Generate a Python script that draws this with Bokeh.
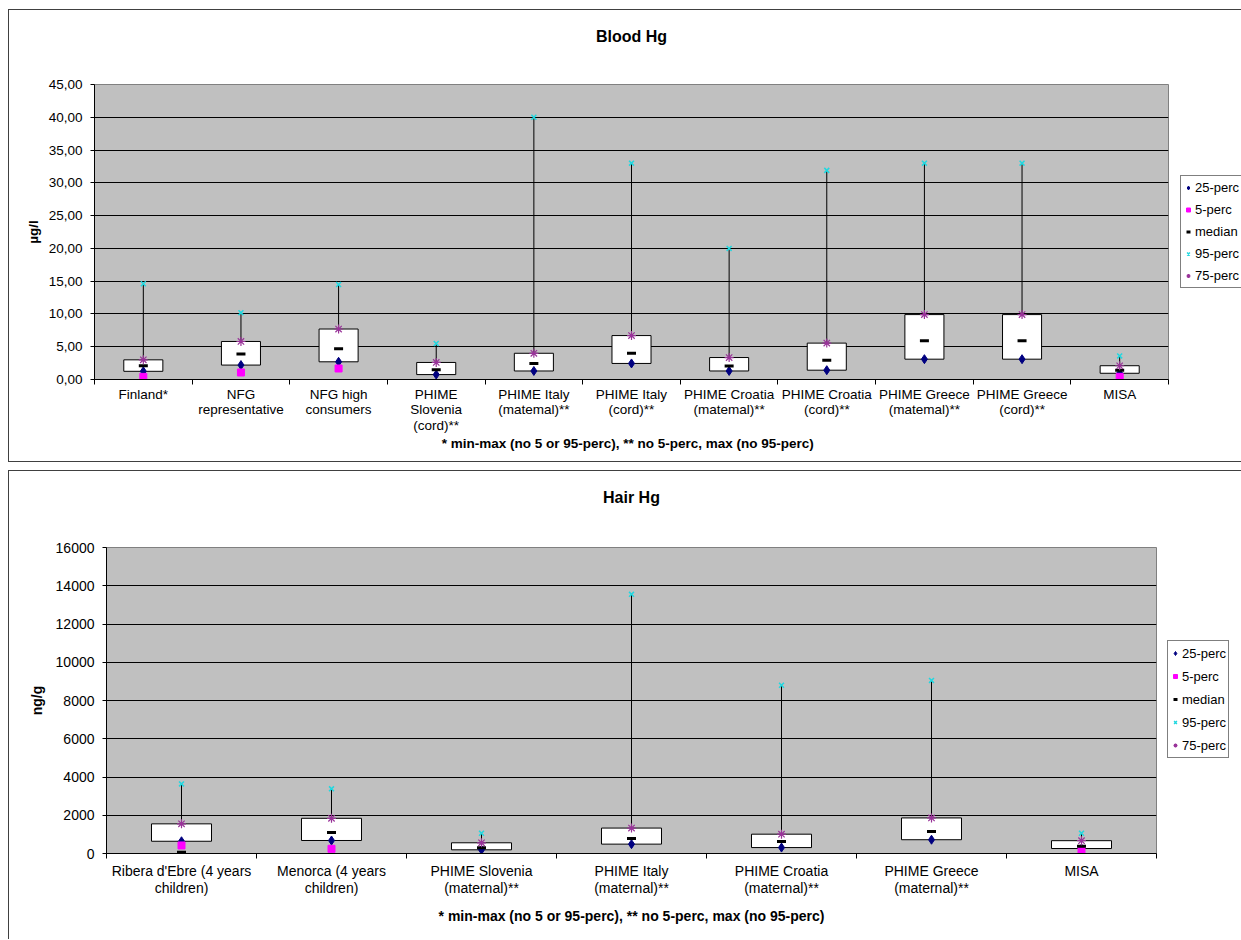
from bokeh.plotting import figure
from bokeh.models import (Range1d, FixedTicker, CustomJSTickFormatter, Legend,
                          LegendItem, Title)
from bokeh.embed import file_html
from bokeh.resources import INLINE

FONT = "Liberation Sans"

# ---------------- Blood Hg (µg/l) ----------------
blood_categories = ["Finland*", "NFG\nrepresentative", "NFG high\nconsumers",
                    "PHIME\nSlovenia\n(cord)**", "PHIME Italy\n(matemal)**",
                    "PHIME Italy\n(cord)**", "PHIME Croatia\n(matemal)**",
                    "PHIME Croatia\n(cord)**", "PHIME Greece\n(matemal)**",
                    "PHIME Greece\n(cord)**", "MISA"]
blood_p5 = [0.4, 1.07, 1.68, None, None, None, None, None, None, None, 0.4]
blood_p25 = [1.25, 2.2, 2.7, 0.75, 1.3, 2.45, 1.3, 1.42, 3.1, 3.1, 0.95]
blood_median = [2.1, 3.9, 4.7, 1.5, 2.45, 4.0, 2.05, 2.95, 5.9, 5.9, 1.42]
blood_p75 = [3.0, 5.8, 7.7, 2.6, 4.0, 6.7, 3.35, 5.55, 9.9, 9.9, 2.1]
blood_p95 = [14.6, 10.2, 14.5, 5.5, 40.0, 33.0, 20.0, 31.9, 33.0, 33.0, 3.6]
blood_yticks = [0, 5, 10, 15, 20, 25, 30, 35, 40, 45]

# ---------------- Hair Hg (ng/g) ----------------
hair_categories = ["Ribera d'Ebre (4 years\nchildren)", "Menorca (4 years\nchildren)",
                   "PHIME Slovenia\n(maternal)**", "PHIME Italy\n(maternal)**",
                   "PHIME Croatia\n(maternal)**", "PHIME Greece\n(maternal)**", "MISA"]
hair_p5 = [420, 245, None, None, None, None, 120]
hair_p25 = [640, 680, 192, 490, 310, 720, 260]
hair_median = [70, 1100, 296, 784, 627, 1150, 383]
hair_p75 = [1550, 1840, 560, 1330, 1010, 1860, 670]
hair_p95 = [3640, 3380, 1060, 13550, 8800, 9050, 1060]
hair_yticks = [0, 2000, 4000, 6000, 8000, 10000, 12000, 14000, 16000]

footnote_blood = "* min-max  (no 5 or 95-perc), ** no 5-perc, max  (no 95-perc)"
footnote_hair = "* min-max (no 5 or 95-perc), ** no 5-perc, max (no 95-perc)"


def make_chart(title, cats, p5, p25, med, p75, p95, yticks, ylabel, ycode, footnote,
               frame_w, frame_h, mb_left, mb_right, mb_top, mb_bottom, title_gap,
               legend_xy, fs, legend_fs, item_h, ylab_standoff, xlab_standoff,
               foot_standoff, line_h, shadow, css_margin):
    n = len(cats)
    centers = [i + 0.5 for i in range(n)]
    bounds = list(range(n + 1))
    p = figure(frame_width=frame_w, frame_height=frame_h, x_range=Range1d(0, n),
               y_range=Range1d(yticks[0], yticks[-1]),
               output_backend="svg", toolbar_location=None,
               min_border_left=mb_left, min_border_right=mb_right,
               min_border_top=mb_top, min_border_bottom=mb_bottom)
    p.background_fill_color = "#C0C0C0"
    p.border_fill_color = None
    p.outline_line_color = "#808080"
    p.styles = {"background-color": "white", "box-shadow": shadow,
                "margin": css_margin}

    # grid
    p.xgrid.visible = False
    p.ygrid.ticker = FixedTicker(ticks=yticks[1:-1])
    p.ygrid.grid_line_color = "black"
    p.ygrid.grid_line_width = 1

    # y axis
    p.yaxis.ticker = FixedTicker(ticks=yticks)
    p.yaxis.formatter = CustomJSTickFormatter(code=ycode)
    p.yaxis.axis_line_color = "black"
    p.yaxis.major_tick_out = 4
    p.yaxis.major_tick_in = 0
    p.yaxis.minor_tick_line_color = None
    p.yaxis.major_label_text_font = FONT
    p.yaxis.major_label_text_font_size = fs
    p.yaxis.major_label_text_color = "black"
    p.yaxis.major_label_standoff = 8
    p.yaxis.axis_label = ylabel
    p.yaxis.axis_label_text_font = FONT
    p.yaxis.axis_label_text_font_style = "bold"
    p.yaxis.axis_label_text_font_size = fs
    p.yaxis.axis_label_text_color = "black"
    p.yaxis.axis_label_standoff = ylab_standoff

    # x axis: labels at centres, ticks at category boundaries
    p.xaxis.ticker = FixedTicker(ticks=centers, minor_ticks=bounds)
    p.xaxis.formatter = CustomJSTickFormatter(args=dict(labels=cats),
                                              code="return labels[Math.floor(tick)];")
    p.xaxis.axis_line_color = "black"
    p.xaxis.major_tick_out = 0
    p.xaxis.major_tick_in = 0
    p.xaxis.major_tick_line_color = None
    p.xaxis.minor_tick_out = 5
    p.xaxis.minor_tick_in = 0
    p.xaxis.minor_tick_line_color = "black"
    p.xaxis.major_label_text_font = FONT
    p.xaxis.major_label_text_font_size = fs
    p.xaxis.major_label_text_color = "black"
    p.xaxis.major_label_text_line_height = line_h
    p.xaxis.major_label_standoff = xlab_standoff
    p.xaxis.axis_label = footnote
    p.xaxis.axis_label_text_font = FONT
    p.xaxis.axis_label_text_font_style = "bold"
    p.xaxis.axis_label_text_font_size = fs
    p.xaxis.axis_label_text_color = "black"
    p.xaxis.axis_label_standoff = foot_standoff

    # boxes and whiskers
    p.vbar(x=centers, width=0.4, bottom=p25, top=p75, fill_color="white",
           line_color="black", line_width=1)
    p.segment(x0=centers, y0=p75, x1=centers, y1=p95, line_color="black", line_width=1)

    r25 = p.scatter(x=centers, y=p25, marker="diamond", size=9,
                    fill_color="#000080", line_color="#000080")
    x5 = [c for c, v in zip(centers, p5) if v is not None]
    y5 = [v for v in p5 if v is not None]
    r5 = p.scatter(x=x5, y=y5, marker="square", size=7,
                   fill_color="#FF00FF", line_color="#FF00FF")
    rmed = p.scatter(x=centers, y=med, marker="dash", size=9, line_width=3,
                     line_color="black")
    r95 = p.scatter(x=centers, y=p95, marker="x", size=7, line_width=1.5,
                    line_color="#20D8E0")
    r75 = p.scatter(x=centers, y=p75, marker="asterisk", size=9, line_width=1.2,
                    line_color="#993399")

    legend = Legend(items=[LegendItem(label="25-perc", renderers=[r25]),
                           LegendItem(label="5-perc", renderers=[r5]),
                           LegendItem(label="median", renderers=[rmed]),
                           LegendItem(label="95-perc", renderers=[r95]),
                           LegendItem(label="75-perc", renderers=[r75])],
                    location=legend_xy)
    legend.border_line_color = "black"
    legend.border_line_width = 1
    legend.background_fill_color = "white"
    legend.background_fill_alpha = 1
    legend.label_text_font = FONT
    legend.label_text_font_size = legend_fs
    legend.label_text_color = "black"
    legend.glyph_width = 10
    legend.glyph_height = item_h
    legend.label_height = item_h
    legend.spacing = 3
    legend.padding = 2
    legend.label_standoff = 2
    legend.margin = 0
    p.add_layout(legend, "right")

    # spacer between frame and title, then the title (outermost)
    p.add_layout(Title(text=" ", text_font_size="1px", standoff=title_gap), "above")
    p.add_layout(Title(text=title, align="center", vertical_align="bottom", standoff=0,
                       text_font=FONT, text_font_style="bold", text_font_size="16px",
                       text_color="black"), "above")
    return p


p1 = make_chart("Blood Hg", blood_categories, blood_p5, blood_p25, blood_median,
                blood_p75, blood_p95, blood_yticks, "µg/l",
                "return tick.toFixed(2).replace('.', ',');", footnote_blood,
                frame_w=1074, frame_h=295, mb_left=86, mb_right=72, mb_top=75,
                mb_bottom=83, title_gap=37, legend_xy=(12, 91),
                fs="13.5px", legend_fs="13px", item_h=19, ylab_standoff=5,
                xlab_standoff=2, foot_standoff=0, line_h=1.04,
                shadow="inset 1px 1px 0 0 #404040, inset 0 -1px 0 0 #404040",
                css_margin="9px 0 0 8px")

p2 = make_chart("Hair Hg", hair_categories, hair_p5, hair_p25, hair_median,
                hair_p75, hair_p95, hair_yticks, "ng/g",
                "return tick.toFixed(0);", footnote_hair,
                frame_w=1050, frame_h=306, mb_left=98, mb_right=84, mb_top=77,
                mb_bottom=86, title_gap=39, legend_xy=(11, 95),
                fs="14px", legend_fs="13px", item_h=20, ylab_standoff=8,
                xlab_standoff=4, foot_standoff=9, line_h=1.087,
                shadow="inset 1px 1px 0 0 #404040",
                css_margin="8px 0 0 8px")

open("out.html", "w").write(file_html([p1, p2], INLINE))
